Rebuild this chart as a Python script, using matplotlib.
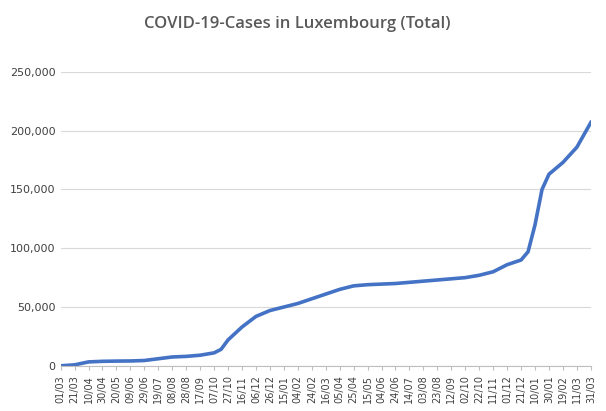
import matplotlib
matplotlib.use("Agg")
import matplotlib.pyplot as plt
import matplotlib.dates as mdates
import pandas as pd

dates = ["2020-03-01","2020-03-21","2020-04-10","2020-04-30","2020-05-20","2020-06-09","2020-06-29",
         "2020-07-19","2020-08-08","2020-08-28","2020-09-17","2020-10-07","2020-10-17","2020-10-27","2020-11-16",
         "2020-12-06","2020-12-26","2021-01-15","2021-02-04","2021-02-24","2021-03-16","2021-04-05",
         "2021-04-25","2021-05-15","2021-06-04","2021-06-24","2021-07-14","2021-08-03","2021-08-23",
         "2021-09-12","2021-10-02","2021-10-22","2021-11-11","2021-12-01","2021-12-21","2021-12-31",
         "2022-01-10","2022-01-20","2022-01-30","2022-02-09","2022-02-19","2022-03-11","2022-03-31"]
totals = [0,800,3300,3800,4000,4100,4500,6000,7500,8000,9000,11000,14000,22000,33000,42000,47000,
          50000,53000,57000,61000,65000,68000,69000,69500,70000,71000,72000,73000,74000,75000,
          77000,80000,86000,90000,97000,120000,150000,163000,168000,173000,186000,207000]

d = pd.to_datetime(dates)
tick_dates = pd.date_range("2020-03-01", "2022-03-31", freq="20D")

fig, ax = plt.subplots(figsize=(6.06, 4.11), dpi=100)
fig.subplots_adjust(left=0.1, right=0.975, top=0.825, bottom=0.11)
ax.plot(d, totals, color="#4472C4", lw=2.6)
ax.set_xlim(d[0], d[-1])
ax.set_ylim(0, 250000)
ax.set_yticks(range(0, 250001, 50000))
ax.yaxis.set_major_formatter(matplotlib.ticker.FuncFormatter(lambda v, p: f"{int(v):,}"))
ax.set_xticks(tick_dates)
ax.xaxis.set_major_formatter(mdates.DateFormatter("%d/%m"))
plt.setp(ax.get_xticklabels(), rotation=90, fontsize=7, color="#404040")
plt.setp(ax.get_yticklabels(), fontsize=8, color="#404040")
ax.grid(axis="y", color="#d9d9d9", lw=0.8)
for s in ["top", "right", "left"]:
    ax.spines[s].set_visible(False)
ax.spines["bottom"].set_color("#bfbfbf")
ax.tick_params(length=0)
ax.tick_params(axis="x", length=3, color="#bfbfbf")
fig.suptitle("COVID-19-Cases in Luxembourg (Total)", x=0.49, y=0.96, fontsize=12,
             fontweight="semibold", color="#595959", family="Open Sans")
fig.savefig("out.png")
